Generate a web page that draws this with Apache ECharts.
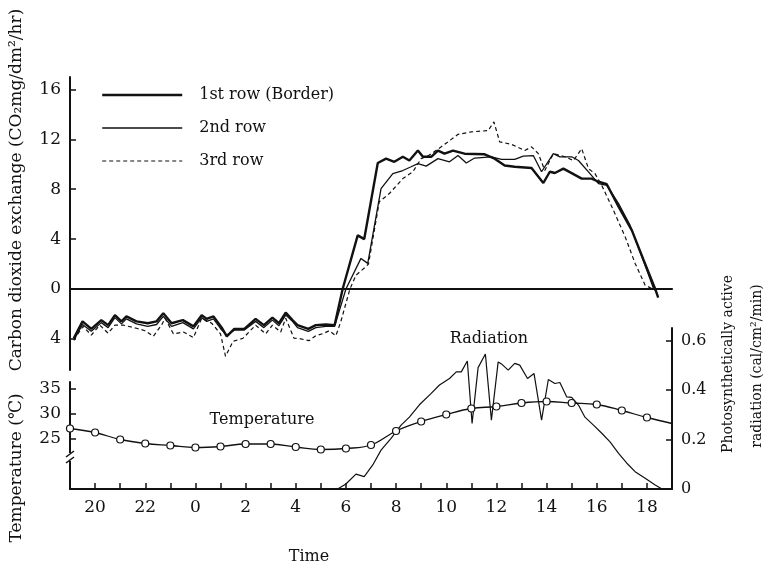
<!DOCTYPE html>
<html>
<head>
<meta charset="utf-8">
<script src="https://cdn.jsdelivr.net/npm/echarts@6/dist/echarts.min.js"></script>
<style>
  html, body { margin: 0; background: #fff; }
  #chart { width: 766px; height: 567px; }
</style>
</head>
<body>
<div id="chart"></div>
<script>
// x = hours after 19:00 (0 = 19h, 24 = 19h next day)
var START_HOUR = 19;
var FONT = 'DejaVu Serif';
var INK = '#111';

// CO2 exchange, mg/dm2/hr  [hours after 19h, value]
var row1 = [
  [0.15,-3.95],[0.5,-2.6],[0.85,-3.2],[1.25,-2.5],[1.52,-2.9],[1.79,-2.1],[2.05,-2.6],[2.25,-2.2],
  [2.65,-2.6],[3.1,-2.75],[3.45,-2.6],[3.72,-1.95],[4.05,-2.75],[4.5,-2.5],[4.92,-3.0],[5.25,-2.1],
  [5.45,-2.4],[5.72,-2.2],[6.05,-3.1],[6.25,-3.8],[6.55,-3.2],[6.95,-3.2],[7.4,-2.4],[7.73,-2.9],
  [8.07,-2.3],[8.33,-2.75],[8.6,-1.9],[8.87,-2.5],[9.07,-2.9],[9.5,-3.2],[9.8,-2.9],[10.2,-2.85],
  [10.55,-2.9],[10.87,0],[11.47,4.3],[11.73,4.0],[12.27,10.1],[12.6,10.45],[12.93,10.2],[13.27,10.6],
  [13.53,10.3],[13.87,11.1],[14.07,10.6],[14.4,10.6],[14.67,11.1],[14.93,10.85],[15.27,11.1],[15.73,10.85],
  [16.53,10.8],[16.93,10.45],[17.33,9.9],[17.73,9.8],[18.4,9.7],[18.87,8.5],[19.13,9.4],[19.33,9.3],
  [19.67,9.65],[20.4,8.85],[20.8,8.85],[21.07,8.6],[21.4,8.4],[21.87,6.6],[22.4,4.7],[22.87,2.3],
  [23.33,0],[23.45,-0.7]
];
var row2 = [
  [0.15,-4.1],[0.5,-2.85],[0.85,-3.4],[1.25,-2.7],[1.52,-3.1],[1.79,-2.3],[2.05,-2.8],[2.25,-2.4],
  [2.65,-2.8],[3.1,-3.0],[3.45,-2.85],[3.72,-2.2],[4.05,-3.0],[4.5,-2.7],[4.92,-3.2],[5.25,-2.3],
  [5.45,-2.6],[5.72,-2.4],[6.05,-3.3],[6.25,-3.7],[6.55,-3.3],[6.95,-3.3],[7.4,-2.6],[7.73,-3.1],
  [8.07,-2.5],[8.33,-2.95],[8.6,-2.1],[8.87,-2.6],[9.07,-3.1],[9.5,-3.4],[9.8,-3.1],[10.2,-3.0],
  [10.55,-3.0],[11.0,0],[11.6,2.45],[11.87,2.05],[12.4,8.05],[12.87,9.25],[13.27,9.5],[13.6,9.8],
  [13.87,10.05],[14.2,9.85],[14.67,10.45],[15.13,10.2],[15.47,10.7],[15.8,10.1],[16.13,10.5],[16.8,10.6],
  [17.2,10.4],[17.73,10.4],[18.07,10.65],[18.47,10.7],[18.8,9.4],[19.27,10.85],[19.53,10.6],[20.0,10.6],
  [20.27,10.3],[20.73,9.25],[21.07,8.45],[21.4,8.3],[21.87,6.85],[22.33,5.1],[22.8,2.6],[23.27,0]
];
var row3 = [
  [0.15,-4.1],[0.52,-3.0],[0.85,-3.7],[1.19,-2.9],[1.52,-3.55],[1.79,-2.9],[2.12,-2.9],[2.65,-3.15],
  [2.99,-3.35],[3.32,-3.8],[3.65,-2.9],[3.79,-2.35],[4.12,-3.6],[4.52,-3.45],[4.92,-3.9],[5.25,-2.35],
  [5.65,-2.75],[6.0,-3.6],[6.2,-5.4],[6.5,-4.2],[6.9,-3.95],[7.4,-2.9],[7.8,-3.6],[8.07,-2.9],
  [8.4,-3.45],[8.6,-2.35],[8.93,-3.95],[9.2,-4.0],[9.53,-4.15],[9.8,-3.75],[10.13,-3.55],[10.33,-3.35],
  [10.6,-3.75],[10.8,-2.6],[11.16,0],[11.4,1.1],[11.8,1.8],[11.9,2.0],[12.33,7.0],[12.73,7.65],
  [13.27,8.85],[13.67,9.4],[14.0,10.45],[14.3,10.7],[14.8,11.4],[15.47,12.4],[16.0,12.6],[16.67,12.7],
  [16.9,13.4],[17.13,11.8],[17.6,11.6],[18.13,11.1],[18.4,11.4],[18.67,10.85],[18.93,9.5],[19.27,10.85],
  [19.73,10.6],[20.07,10.3],[20.4,11.25],[20.67,9.65],[20.93,9.25],[21.2,8.3],[21.6,6.6],[22.13,4.2],
  [22.53,2.05],[22.93,0.3],[23.33,-0.1]
];

// hourly air temperature, deg C
var tempHours = [0,1,2,3,4,5,6,7,8,9,10,11,12,13,14,15,16,17,18,19,20,21,22,23,24];
var tempC = [27.1,26.3,24.9,24.1,23.7,23.3,23.5,24.0,24.0,23.4,22.9,23.1,23.8,26.6,28.5,29.9,
             31.1,31.5,32.2,32.5,32.2,31.9,30.7,29.3,28.1];

// PAR, cal/cm2/min
var radiation = [
  [0,0],[10.67,0],[11.0,0.02],[11.4,0.06],[11.73,0.05],[12.07,0.097],[12.4,0.157],[12.8,0.204],
  [13.2,0.258],[13.53,0.29],[13.93,0.34],[14.4,0.386],[14.73,0.42],[15.13,0.446],[15.4,0.473],
  [15.6,0.473],[15.84,0.517],[16.03,0.265],[16.27,0.49],[16.56,0.545],[16.8,0.278],[17.07,0.513],
  [17.2,0.505],[17.47,0.48],[17.73,0.507],[17.93,0.5],[18.24,0.446],[18.5,0.466],[18.8,0.278],
  [19.07,0.442],[19.33,0.426],[19.53,0.43],[19.8,0.372],[20.0,0.37],[20.27,0.339],[20.53,0.29],
  [20.87,0.258],[21.2,0.225],[21.53,0.19],[21.87,0.144],[22.2,0.104],[22.53,0.07],[22.93,0.043],
  [23.33,0.016],[23.6,0],[24,0]
];

var co2Ticks = [-4, 0, 4, 8, 12, 16];
var tempTicks = [25, 30, 35];
var radTicks = [0, 0.2, 0.4, 0.6];

var chart = echarts.init(document.getElementById('chart'));

var tempData = tempHours.map(function (h, i) {
  var p = { value: [h, tempC[i]] };
  if (h === 24) p.symbol = 'none';
  return p;
});

function hourLabel(v) {
  var h = (v + START_HOUR) % 24;
  return (Math.round(v) === v && h % 2 === 0) ? String(h) : '';
}

var labelStyle = { color: INK, fontFamily: FONT, fontSize: 17 };
var axisLine = { show: true, onZero: false, lineStyle: { color: INK, width: 2 } };

chart.setOption({
  backgroundColor: '#fff',
  animation: false,
  textStyle: { fontFamily: FONT, color: INK },
  grid: [
    { left: 70, right: 94, top: 77, bottom: 197 },
    { left: 70, right: 94, top: 382, bottom: 78 },
    { left: 70, right: 94, top: 328, bottom: 78 }
  ],
  legend: {
    data: [
      { name: '1st row (Border)', lineStyle: { width: 2.4 } },
      { name: '2nd row', lineStyle: { width: 1.3 } },
      { name: '3rd row', lineStyle: { width: 1.2, type: [4, 3] } }
    ],
    orient: 'vertical',
    left: 96,
    top: 82,
    itemWidth: 80,
    itemHeight: 14,
    itemGap: 17,
    itemStyle: { opacity: 0 },
    textStyle: { color: INK, fontFamily: FONT, fontSize: 16, padding: [0, 0, 0, 12] }
  },
  xAxis: [
    {
      gridIndex: 0, type: 'value', min: 0, max: 24,
      axisLine: { show: true, onZero: true, lineStyle: { color: INK, width: 2.2 } },
      axisTick: { show: false }, axisLabel: { show: false }, splitLine: { show: false }
    },
    {
      gridIndex: 1, type: 'value', min: 0, max: 24, interval: 1,
      axisLine: axisLine,
      axisTick: { inside: true, length: 6, lineStyle: { color: INK, width: 1.5 } },
      axisLabel: Object.assign({ margin: 10, formatter: hourLabel }, labelStyle),
      splitLine: { show: false }
    },
    {
      gridIndex: 2, type: 'value', min: 0, max: 24, show: false
    }
  ],
  yAxis: [
    {
      gridIndex: 0, type: 'value', min: -6.5, max: 17,
      axisLine: axisLine,
      axisTick: { inside: true, length: 6, customValues: co2Ticks, lineStyle: { color: INK, width: 1.5 } },
      axisLabel: Object.assign({ margin: 9, customValues: co2Ticks,
        formatter: function (v) { return String(Math.abs(v)); } }, labelStyle),
      splitLine: { show: false }
    },
    {
      gridIndex: 1, type: 'value', min: 15, max: 36.4,
      axisLine: axisLine,
      axisTick: { inside: true, length: 6, customValues: tempTicks, lineStyle: { color: INK, width: 1.5 } },
      axisLabel: Object.assign({ margin: 9, customValues: tempTicks }, labelStyle),
      splitLine: { show: false }
    },
    {
      gridIndex: 2, type: 'value', position: 'right', min: 0, max: 0.65,
      axisLine: axisLine,
      axisTick: { inside: true, length: 6, customValues: [0.2, 0.4, 0.6], lineStyle: { color: INK, width: 1.5 } },
      axisLabel: Object.assign({ margin: 9, customValues: radTicks,
        formatter: function (v) { return v === 0 ? '0' : v.toFixed(1); } }, labelStyle, { fontSize: 16 }),
      splitLine: { show: false }
    }
  ],
  series: [
    {
      name: '1st row (Border)', type: 'line', xAxisIndex: 0, yAxisIndex: 0, data: row1,
      symbol: 'none', z: 4, lineStyle: { color: INK, width: 2.4 }, itemStyle: { color: INK }
    },
    {
      name: '2nd row', type: 'line', xAxisIndex: 0, yAxisIndex: 0, data: row2,
      symbol: 'none', z: 3, lineStyle: { color: INK, width: 1.3 }, itemStyle: { color: INK }
    },
    {
      name: '3rd row', type: 'line', xAxisIndex: 0, yAxisIndex: 0, data: row3,
      symbol: 'none', z: 3, lineStyle: { color: INK, width: 1.2, type: [4, 3] }, itemStyle: { color: INK }
    },
    {
      name: 'Radiation', type: 'line', xAxisIndex: 2, yAxisIndex: 2, data: radiation,
      symbol: 'none', z: 2, lineStyle: { color: INK, width: 1.2 }
    },
    {
      name: 'Temperature', type: 'line', xAxisIndex: 1, yAxisIndex: 1, data: tempData,
      smooth: 0.4, symbol: 'circle', symbolSize: 7, z: 5,
      lineStyle: { color: INK, width: 1.3 },
      itemStyle: { color: '#fff', borderColor: INK, borderWidth: 1.2 }
    }
  ],
  graphic: [
    { type: 'text', x: 17, y: 190, rotation: Math.PI / 2,
      style: { text: 'Carbon dioxide exchange (CO\u2082mg/dm\u00b2/hr)', font: '17px "DejaVu Serif"',
        fill: INK, align: 'center', verticalAlign: 'middle' } },
    { type: 'text', x: 17, y: 468, rotation: Math.PI / 2,
      style: { text: 'Temperature (\u2103)', font: '17px "DejaVu Serif"',
        fill: INK, align: 'center', verticalAlign: 'middle' } },
    { type: 'text', x: 728, y: 364, rotation: Math.PI / 2,
      style: { text: 'Photosynthetically active', font: '14px "DejaVu Serif"',
        fill: INK, align: 'center', verticalAlign: 'middle' } },
    { type: 'text', x: 757, y: 366, rotation: Math.PI / 2,
      style: { text: 'radiation (cal/cm\u00b2/min)', font: '14px "DejaVu Serif"',
        fill: INK, align: 'center', verticalAlign: 'middle' } },
    { type: 'text', x: 309, y: 557,
      style: { text: 'Time', font: '16px "DejaVu Serif"', fill: INK, align: 'center', verticalAlign: 'middle' } },
    { type: 'text', x: 262, y: 420,
      style: { text: 'Temperature', font: '16px "DejaVu Serif"', fill: INK, align: 'center', verticalAlign: 'middle' } },
    { type: 'text', x: 489, y: 339,
      style: { text: 'Radiation', font: '16px "DejaVu Serif"', fill: INK, align: 'center', verticalAlign: 'middle' } },
    // axis break on the temperature scale
    { type: 'rect', shape: { x: 64, y: 453, width: 12, height: 8 }, style: { fill: '#fff' }, z: 100 },
    { type: 'line', shape: { x1: 66, y1: 457, x2: 74, y2: 451 }, style: { stroke: INK, lineWidth: 1.5 }, z: 101 },
    { type: 'line', shape: { x1: 66, y1: 463, x2: 74, y2: 457 }, style: { stroke: INK, lineWidth: 1.5 }, z: 101 }
  ]
});
</script>
</body>
</html>
